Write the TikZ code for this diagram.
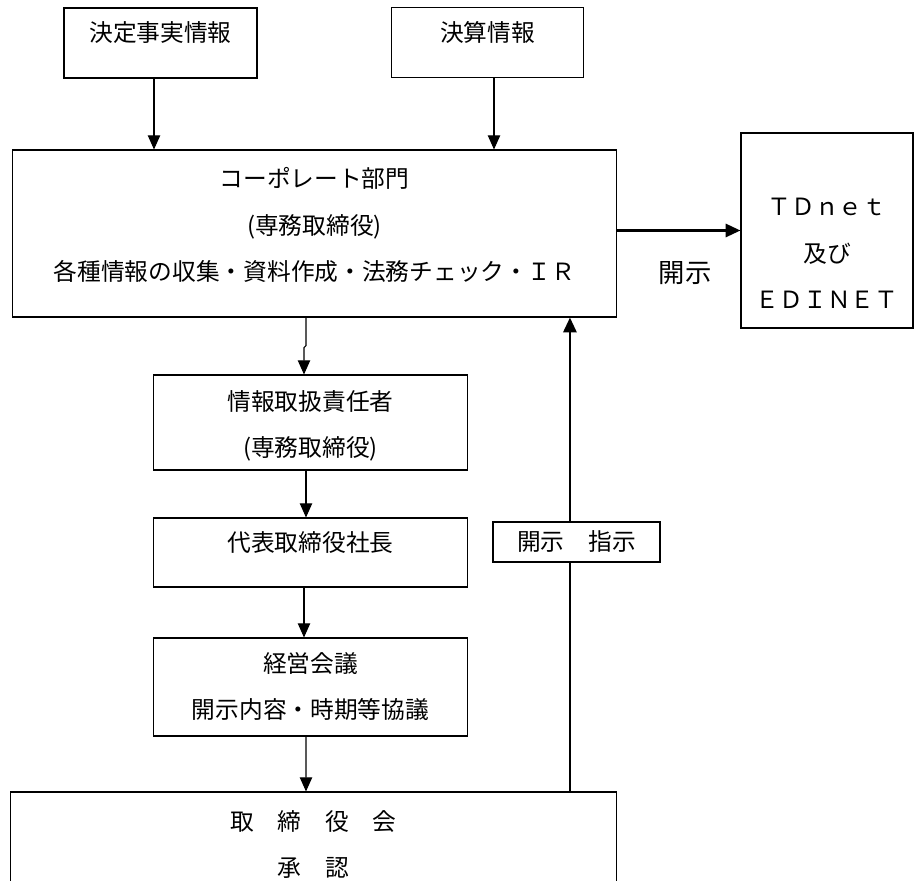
\documentclass[tikz,border=0pt]{standalone}
\usepackage{fontspec}
\setmainfont{Noto Sans CJK JP}
\usetikzlibrary{arrows.meta}

\begin{document}
\begin{tikzpicture}[x=0.02cm,y=-0.02cm]
	% Styles
	\tikzset{box/.style={draw, line width=0.6pt, align=center, inner sep=0pt, font=\fontsize{13.5pt}{26.5pt}\selectfont},
		flow/.style={line width=0.6pt, -{Triangle[length=8pt,width=7pt]}},
		bigflow/.style={line width=1.5pt, -{Triangle[length=8.5pt,width=7.5pt]}}}
	\useasboundingbox (0,0) rectangle (917,881);
	\clip (0,0) rectangle (917,881);
	
	% Information sources
	\node[box, minimum width=3.86cm, text height=0.68cm, text depth=0.72cm] (kettei) at (160.5,43) {決定事実情報};
	\node[box, minimum width=3.84cm, text height=0.68cm, text depth=0.72cm] (kessan) at (487.5,42.5) {決算情報};
	
	% Main boxes
	\node[box, minimum width=12.1cm, text height=2.62cm, text depth=0.72cm] (corp) at (314.5,233.5) {コーポレート部門\\(専務取締役)\\各種情報の収集・資料作成・法務チェック・ＩＲ};
	\node[box, minimum width=3.44cm, text height=3.52cm, text depth=0.38cm] (tdnet) at (827,230.5) {ＴＤｎｅｔ\\及び\\ＥＤＩＮＥＴ};
	\node[box, minimum width=6.3cm, text height=1.64cm, text depth=0.26cm] (info) at (310.5,422.5) {情報取扱責任者\\(専務取締役)};
	\node[box, minimum width=6.3cm, text height=0.68cm, text depth=0.70cm] (ceo) at (310.5,552.5) {代表取締役社長};
	\node[box, minimum width=6.3cm, text height=1.62cm, text depth=0.34cm] (keiei) at (310.5,687) {経営会議\\開示内容・時期等協議};
	\node[box, minimum width=12.14cm, text height=1.70cm, text depth=0.42cm] (board) at (313.5,845) {取　締　役　会\\承　認};
	
	% Arrows
	\draw[flow] ([xshift=-0.13cm]kettei.south) -- ([xshift=-0.13cm]kettei.south |- corp.north);
	\draw[flow] ([xshift=0.13cm]kessan.south) -- ([xshift=0.13cm]kessan.south |- corp.north);
	\draw[flow] ([xshift=-0.17cm]corp.south) -- ++(0,28) -- ++(-2,2) -- ([xshift=-0.13cm]info.north);
	\draw[flow] ([xshift=-0.09cm]info.south) -- ([xshift=-0.09cm]info.south |- ceo.north);
	\draw[flow] ([xshift=-0.13cm]ceo.south) -- ([xshift=-0.13cm]ceo.south |- keiei.north);
	\draw[flow] ([xshift=-0.09cm]keiei.south) -- ([xshift=-0.15cm]board.north);
	\draw[bigflow] (corp.east |- tdnet.west) -- (tdnet.west);
	\draw[bigflow] ([xshift=5.13cm]board.north) -- ([xshift=5.13cm]board.north |- corp.south);
	
	\node[box, fill=white, minimum width=3.34cm, minimum height=0.8cm] (shiji) at (576.5,542) {開示　指示};
	\node[font=\fontsize{15pt}{18pt}\selectfont] (kaiji) at (685,273) {開示};
\end{tikzpicture}
\end{document}
